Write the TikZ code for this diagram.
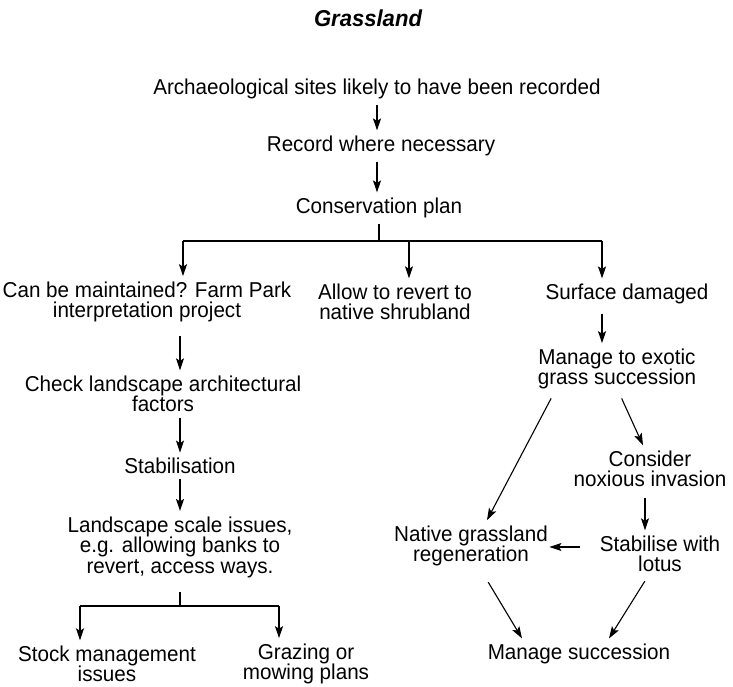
\documentclass[tikz,border=0pt]{standalone}
\usepackage{fontspec}
\setmainfont{Liberation Sans}[FakeStretch=0.96]
\usetikzlibrary{arrows.meta}

\begin{document}
\begin{tikzpicture}[x=1pt, y=-1pt, line width=1.1pt,
	txt/.style={align=center, inner xsep=1pt, inner ysep=5pt, font=\fontsize{21.5}{20.5}\selectfont},
	arr/.style={-{Stealth[length=12pt,width=8pt,inset=2.5pt]}}]
	\useasboundingbox (0, 0) rectangle (733, 686);
	\node [font=\fontsize{23}{24}\selectfont\bfseries\itshape] (t) at (368, 18) {Grassland};
	\node [txt] (0) at (377, 89) {Archaeological sites likely to have been recorded};
	\node [txt] (1) at (381, 146) {Record where necessary};
	\node [txt] (2) at (379, 208) {Conservation plan};
	\node [txt] (3) at (147, 302) {Can be maintained? Farm Park\\interpretation project};
	\node [txt] (4) at (395, 302) {Allow to revert to\\native shrubland};
	\node [txt] (5) at (627, 294) {Surface damaged};
	\node [txt] (6) at (163, 394) {Check landscape architectural\\factors};
	\node [txt] (7) at (180, 466) {Stabilisation};
	\node [txt] (8) at (180, 547) {Landscape scale issues,\\e.g. allowing banks to\\revert, access ways.};
	\node [txt] (9) at (107, 664) {Stock management\\issues};
	\node [txt] (10) at (306, 664) {Grazing or\\mowing plans};
	\node [txt] (11) at (617, 369) {Manage to exotic\\grass succession};
	\node [txt] (12) at (650, 469) {Consider\\noxious invasion};
	\node [txt] (13) at (660, 554) {Stabilise with\\lotus};
	\node [txt] (14) at (471, 546) {Native grassland\\regeneration};
	\node [txt] (15) at (579, 654) {Manage succession};
	\coordinate (j0) at (379, 241);
	\coordinate (jl) at (183, 241);
	\coordinate (jm) at (409, 241);
	\coordinate (jr) at (602, 241);
	\coordinate (j1) at (180, 606);
	\coordinate (jl1) at (80, 606);
	\coordinate (jr1) at (279, 606);
	\draw [arr] (0) to (0 |- 1.north);
	\draw [arr] (1.south -| 0) to (0 |- 2.north);
	\draw (2) to (j0);
	\draw (jl) to (jr);
	\draw [arr] (jl) to (jl |- 3.north);
	\draw [arr] (jm) to (jm |- 4.north);
	\draw [arr] (jr) to (jr |- 5.north);
	\draw [arr, shorten <=8pt] (3.south -| 7) to (6.north -| 7);
	\draw [arr] (6.south -| 7) to (7);
	\draw [arr] (7) to (8);
	\draw [shorten <=9pt] (8) to (j1);
	\draw (jl1) to (jr1);
	\draw [arr] (jl1) to (jl1 |- 9.north);
	\draw [arr] (jr1) to (jr1 |- 10.north);
	\draw [arr, shorten <=4pt] (jr |- 5.south) to (jr |- 11.north);
	\draw [arr, shorten <=4pt] ([xshift=-64pt]11.south) to ([xshift=16pt]14.north);
	\draw [arr, shorten <=4pt] ([xshift=3pt]11.south) to ([xshift=-7pt]12.north);
	\draw [arr, shorten <=5pt] ([xshift=-5pt]12.south) to ([xshift=-5pt]12.south |- 13.north);
	\draw [arr, shorten <=18pt] ([yshift=7pt]13.west) to ([yshift=7pt]13.west -| 14.east);
	\draw [arr, shorten <=12pt] ([xshift=11pt]14.south) to ([xshift=-57pt]15.north);
	\draw [arr, shorten <=4pt] ([xshift=-13pt]13.south) to ([xshift=30pt]15.north);
\end{tikzpicture}
\end{document}
